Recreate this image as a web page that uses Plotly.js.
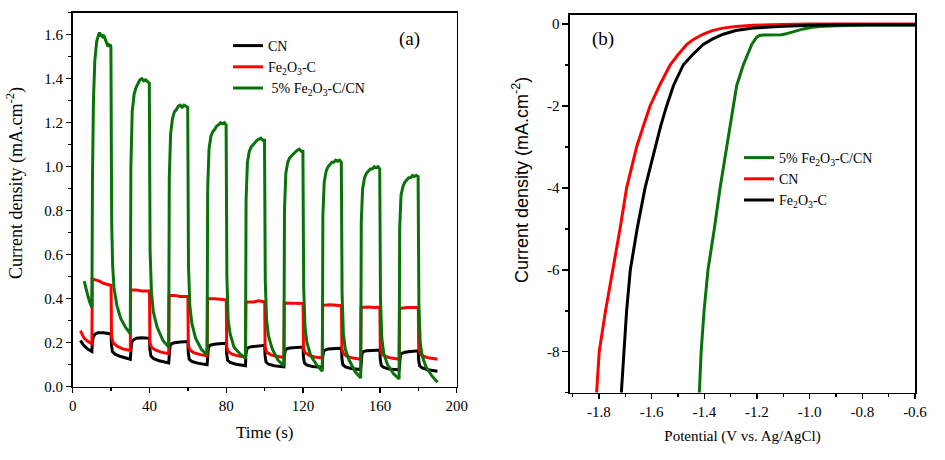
<!DOCTYPE html>
<html>
<head>
<meta charset="utf-8">
<script src="https://cdn.plot.ly/plotly-3.0.1.min.js"></script>
<style>html,body{margin:0;padding:0;background:#fff;}#chart{width:945px;height:460px;}</style>
</head>
<body>
<div id="chart"></div>
<script>
// ---------- Panel (a): chopped photocurrent ----------
const cnTime = [4,5,6,8,10,
  10.2,10.7,11.5,13,16,19.5,20, 20.2,20.7,22,25,30,
  30.2,30.7,31.5,33,36,40, 40.2,40.7,42,45,50,
  50.2,50.7,51.5,53,56,60, 60.2,60.7,62,65,70,
  70.2,70.7,71.5,73,76,80, 80.2,80.7,82,85,90,
  90.2,90.7,91.5,93,96,100, 100.2,100.7,102,105,110,
  110.2,110.7,111.5,113,116,120, 120.2,120.7,122,125,130,
  130.2,130.7,131.5,133,136,140, 140.2,140.7,142,145,150,
  150.2,150.7,151.5,153,156,160, 160.2,160.7,162,165,170,
  170.2,170.7,171.5,173,176,180, 180.2,180.7,182,185,190];
const cnCurrent = [0.21,0.195,0.185,0.17,0.16,
  0.20,0.225,0.238,0.245,0.245,0.243,0.24, 0.19,0.16,0.148,0.137,0.125,
  0.17,0.20,0.212,0.22,0.222,0.22, 0.17,0.14,0.128,0.118,0.108,
  0.155,0.185,0.195,0.20,0.203,0.205, 0.155,0.125,0.115,0.107,0.10,
  0.15,0.178,0.188,0.192,0.195,0.197, 0.15,0.12,0.11,0.102,0.095,
  0.145,0.17,0.178,0.182,0.185,0.188, 0.14,0.112,0.102,0.095,0.09,
  0.14,0.165,0.172,0.176,0.178,0.18, 0.135,0.108,0.098,0.092,0.088,
  0.135,0.16,0.167,0.171,0.173,0.175, 0.13,0.10,0.09,0.083,0.078,
  0.125,0.152,0.16,0.163,0.165,0.167, 0.125,0.097,0.088,0.08,0.076,
  0.12,0.145,0.152,0.157,0.16,0.163, 0.12,0.095,0.085,0.077,0.07];

const feTime = [4,5,6,8,10,
  10.2,12,14,16,18,20, 20.2,21,23,26,30,
  30.2,33,36,40, 40.2,41,43,46,50,
  50.2,53,56,60, 60.2,61,63,66,70,
  70.2,74,77,80, 80.2,81,83,86,90,
  90.2,94,97,100, 100.2,101,103,106,110,
  110.2,114,117,120, 120.2,121,123,126,130,
  130.2,134,137,140, 140.2,141,143,146,150,
  150.2,154,157,160, 160.2,161,163,166,170,
  170.2,174,177,180, 180.2,181,183,186,190];
const feCurrent = [0.255,0.235,0.22,0.205,0.195,
  0.49,0.485,0.48,0.47,0.465,0.46, 0.23,0.20,0.185,0.172,0.165,
  0.44,0.44,0.435,0.435, 0.20,0.18,0.167,0.157,0.15,
  0.415,0.415,0.41,0.41, 0.19,0.168,0.155,0.147,0.14,
  0.40,0.40,0.397,0.395, 0.18,0.16,0.148,0.14,0.135,
  0.385,0.385,0.39,0.385, 0.18,0.158,0.146,0.138,0.133,
  0.38,0.38,0.378,0.378, 0.175,0.155,0.143,0.135,0.13,
  0.37,0.372,0.37,0.368, 0.17,0.15,0.138,0.13,0.125,
  0.36,0.362,0.36,0.362, 0.17,0.15,0.137,0.13,0.125,
  0.355,0.36,0.36,0.36, 0.17,0.15,0.137,0.13,0.125];

const compTime = [6,7,8,9,10,
  10.3,10.8,11.5,12.5,13.5,14,14.5,15,15.5,16,16.5,17,17.5,18,18.5,19,19.5,19.9,
  20.3,20.8,21.5,23,25,27.5,30,
  30.3,31,32,33,34,35,36,37,38,39,39.9, 40.3,41,42,44,47,50,
  50.3,51,52,53,54,55,56,57,58,59,59.9, 60.3,61,62,64,67,70,
  70.3,71,72,73,74,75,76,77,78,79,79.9, 80.3,81,82,84,87,90,
  90.3,91,92,93,94,95,96,97,98,99,99.9, 100.3,101,102,104,107,110,
  110.3,111,112,113,114,115,116,117,118,119,119.9, 120.3,121,122,124,127,130,
  130.3,131,132,133,134,135,136,137,138,139,139.9, 140.3,141,142,144,147,150,
  150.3,151,152,153,154,155,156,157,158,159,159.9, 160.3,161,162,164,167,170,
  170.3,171,172,173,174,175,176,177,178,179,179.9, 180.3,181,182,184,187,190];
const compCurrent = [0.48,0.44,0.41,0.38,0.36,
  0.95,1.30,1.48,1.57,1.60,1.61,1.60,1.595,1.60,1.585,1.59,1.575,1.57,1.555,1.56,1.545,1.555,1.545,
  0.75,0.55,0.45,0.37,0.31,0.27,0.24,
  1.00,1.25,1.33,1.36,1.38,1.395,1.40,1.39,1.395,1.385,1.38, 0.62,0.43,0.34,0.27,0.21,0.18,
  0.95,1.15,1.22,1.25,1.26,1.275,1.28,1.27,1.28,1.275,1.27, 0.55,0.37,0.29,0.22,0.17,0.145,
  0.90,1.08,1.14,1.16,1.17,1.185,1.19,1.20,1.195,1.20,1.19, 0.50,0.30,0.24,0.18,0.15,0.13,
  0.85,1.02,1.07,1.09,1.10,1.115,1.12,1.125,1.13,1.12,1.12, 0.48,0.30,0.23,0.17,0.12,0.095,
  0.80,0.97,1.02,1.04,1.05,1.06,1.07,1.075,1.08,1.07,1.07, 0.45,0.27,0.20,0.14,0.10,0.07,
  0.78,0.93,0.98,1.00,1.01,1.02,1.02,1.03,1.025,1.03,1.02, 0.42,0.24,0.17,0.12,0.07,0.04,
  0.75,0.90,0.95,0.97,0.98,0.99,0.99,1.00,0.995,1.00,0.99, 0.40,0.22,0.15,0.10,0.06,0.035,
  0.72,0.87,0.91,0.93,0.94,0.95,0.95,0.96,0.955,0.96,0.955, 0.38,0.20,0.14,0.09,0.05,0.02];

// ---------- Panel (b): LSV ----------
const lsvCompPotential = [-1.419,-1.412,-1.401,-1.386,-1.362,-1.34,-1.315,-1.29,-1.277,-1.252,-1.239,-1.22,-1.201,-1.19,-1.176,-1.15,-1.125,-1.106,-1.09,-1.075,-1.05,-1.024,-0.99,-0.96,-0.9,-0.8,-0.6];
const lsvCompCurrent = [-9,-8,-7,-6,-5,-4,-3,-2,-1.5,-1,-0.8,-0.5,-0.32,-0.28,-0.27,-0.27,-0.27,-0.26,-0.24,-0.21,-0.16,-0.12,-0.08,-0.06,-0.04,-0.03,-0.03];
const lsvCnPotential = [-1.809,-1.799,-1.775,-1.747,-1.72,-1.695,-1.675,-1.657,-1.632,-1.606,-1.57,-1.53,-1.50,-1.467,-1.44,-1.405,-1.37,-1.33,-1.28,-1.215,-1.10,-1.0,-0.8,-0.6];
const lsvCnCurrent = [-9,-8,-7,-6,-5,-4,-3.5,-3,-2.5,-2,-1.5,-1,-0.75,-0.5,-0.37,-0.25,-0.16,-0.1,-0.06,-0.03,-0.01,0,0,0];
const lsvFePotential = [-1.715,-1.706,-1.695,-1.681,-1.655,-1.625,-1.606,-1.587,-1.566,-1.543,-1.517,-1.48,-1.445,-1.404,-1.37,-1.328,-1.28,-1.215,-1.12,-1.0,-0.9,-0.8,-0.6];
const lsvFeCurrent = [-9,-8,-7,-6,-5,-4,-3.5,-3,-2.5,-2,-1.5,-1,-0.75,-0.5,-0.37,-0.25,-0.16,-0.1,-0.06,-0.03,-0.02,-0.02,-0.02];

const rightXTickVals = [-1.8,-1.6,-1.4,-1.2,-1.0,-0.8,-0.6];
const rightXTickText = ['-1.8','-1.6','-1.4','-1.2','-1.0','-0.8','-0.6'];
const rightYTickVals = [-8,-6,-4,-2,0];
const rightYTickText = ['-8','-6','-4','-2','0'];

const nameCN = 'CN';
const nameFe = 'Fe<sub>2</sub>O<sub>3</sub>-C';
const nameComp = '5% Fe<sub>2</sub>O<sub>3</sub>-C/CN';

const BLACK = '#000000', RED = '#ff0000', GREEN = '#0a720a';
const SERIF = '"Liberation Serif", "Times New Roman", serif';
const SANS = '"Liberation Sans", Arial, sans-serif';

const W = 945, H = 460;
const px = v => v / W, py = v => 1 - v / H;

const traces = [
  {x: cnTime, y: cnCurrent, name: nameCN, type: 'scatter', mode: 'lines', line: {color: BLACK, width: 3}, xaxis: 'x', yaxis: 'y', legend: 'legend'},
  {x: feTime, y: feCurrent, name: nameFe, type: 'scatter', mode: 'lines', line: {color: RED, width: 3}, xaxis: 'x', yaxis: 'y', legend: 'legend'},
  {x: compTime, y: compCurrent, name: ' ' + nameComp, type: 'scatter', mode: 'lines', line: {color: GREEN, width: 3}, xaxis: 'x', yaxis: 'y', legend: 'legend'},
  {x: lsvCompPotential, y: lsvCompCurrent, name: nameComp, type: 'scatter', mode: 'lines', line: {color: GREEN, width: 3}, xaxis: 'x2', yaxis: 'y2', legend: 'legend2'},
  {x: lsvCnPotential, y: lsvCnCurrent, name: nameCN, type: 'scatter', mode: 'lines', line: {color: RED, width: 3}, xaxis: 'x2', yaxis: 'y2', legend: 'legend2'},
  {x: lsvFePotential, y: lsvFeCurrent, name: nameFe, type: 'scatter', mode: 'lines', line: {color: BLACK, width: 3}, xaxis: 'x2', yaxis: 'y2', legend: 'legend2'}
];

const axisCommon = {
  showline: true, linecolor: '#000', linewidth: 1.6, mirror: true,
  ticks: 'outside', ticklen: 5, tickwidth: 1.5, tickcolor: '#000',
  showgrid: false, zeroline: false,
  tickfont: {family: SERIF, size: 15, color: '#000'}
};

const layout = {
  width: W, height: H,
  margin: {l: 0, r: 0, t: 0, b: 0},
  paper_bgcolor: '#fff', plot_bgcolor: '#fff',
  showlegend: true,
  xaxis: Object.assign({}, axisCommon, {
    domain: [px(72.7), px(456.7)], anchor: 'y', range: [0, 200], dtick: 40, tick0: 0,
    minor: {dtick: 20, ticklen: 3, tickwidth: 1.5, tickcolor: '#000', ticks: 'outside'},
    title: {text: 'Time (s)', font: {family: SERIF, size: 17, color: '#000'}, standoff: 13}
  }),
  yaxis: Object.assign({}, axisCommon, {
    domain: [1 - 386.7 / H, 1 - 12.7 / H], anchor: 'x', range: [0, 1.70], dtick: 0.2, tick0: 0, tickformat: '.1f',
    minor: {dtick: 0.1, ticklen: 3, tickwidth: 1.5, tickcolor: '#000', ticks: 'outside'}
  }),
  xaxis2: Object.assign({}, axisCommon, {
    domain: [px(570), px(915)], anchor: 'y2', range: [-1.91, -0.6],
    tickmode: 'array', tickvals: rightXTickVals, ticktext: rightXTickText,
    minor: {tick0: -1.9, dtick: 0.1, ticklen: 3, tickwidth: 1.5, tickcolor: '#000', ticks: 'outside'},
    title: {text: 'Potential (V vs. Ag/AgCl)', font: {family: SERIF, size: 15, color: '#000'}, standoff: 11}
  }),
  yaxis2: Object.assign({}, axisCommon, {
    domain: [1 - 392.7 / H, 1 - 15 / H], anchor: 'x2', range: [-9, 0.22],
    tickmode: 'array', tickvals: rightYTickVals, ticktext: rightYTickText, ticklen: 6,
    minor: {dtick: 1, tick0: 0, ticklen: 3, tickwidth: 1.5, tickcolor: '#000', ticks: 'outside'}
  }),
  legend: {
    x: px(228), y: py(30), xanchor: 'left', yanchor: 'top',
    bgcolor: 'rgba(0,0,0,0)', borderwidth: 0,
    font: {family: SERIF, size: 14, color: '#000'},
    tracegroupgap: 0, itemwidth: 30
  },
  legend2: {
    x: px(739), y: py(142), xanchor: 'left', yanchor: 'top',
    bgcolor: 'rgba(0,0,0,0)', borderwidth: 0,
    font: {family: SERIF, size: 14, color: '#000'},
    tracegroupgap: 0, itemwidth: 30
  },
  annotations: [
    {text: '(a)', x: px(409), y: py(39), xref: 'paper', yref: 'paper', showarrow: false, xanchor: 'center', yanchor: 'middle', font: {family: SERIF, size: 19, color: '#000'}},
    {text: '(b)', x: px(603), y: py(39), xref: 'paper', yref: 'paper', showarrow: false, xanchor: 'center', yanchor: 'middle', font: {family: SERIF, size: 19, color: '#000'}},
    {text: 'Current density (mA.cm<sup>-2</sup>)', x: px(15), y: py(183), xref: 'paper', yref: 'paper', showarrow: false, textangle: -90, xanchor: 'center', yanchor: 'middle', font: {family: SERIF, size: 18, color: '#000'}},
    {text: 'Current density (mA.cm<sup>-2</sup>)', x: px(521), y: py(180), xref: 'paper', yref: 'paper', showarrow: false, textangle: -90, xanchor: 'center', yanchor: 'middle', font: {family: SANS, size: 18, color: '#000'}}
  ]
};

Plotly.newPlot('chart', traces, layout, {staticPlot: true, displayModeBar: false});
</script>
</body>
</html>
